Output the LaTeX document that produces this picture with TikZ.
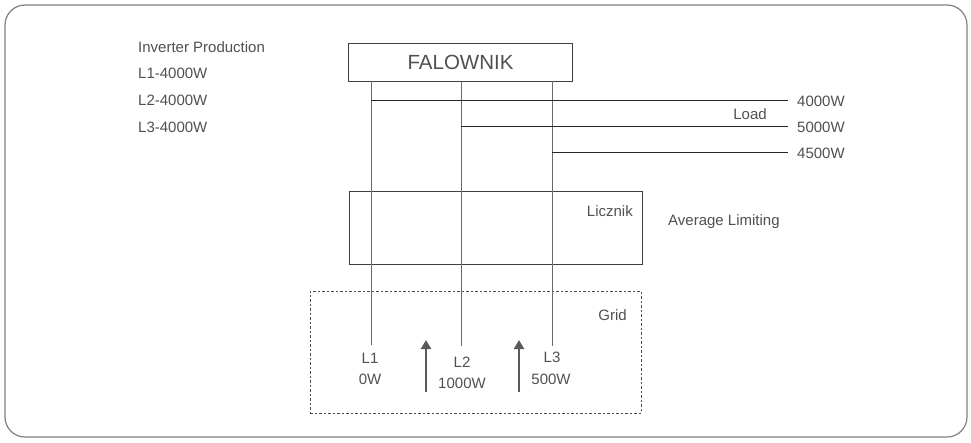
\documentclass[tikz,border=0pt]{standalone}
\usepackage{fontspec}
\setmainfont{Liberation Sans}
\usetikzlibrary{arrows.meta}
\definecolor{txt}{HTML}{505050}
\definecolor{frame}{HTML}{808080}
\definecolor{phasec}{HTML}{6A6A6A}
\definecolor{arrowc}{HTML}{5A5A5A}
\begin{document}
\begin{tikzpicture}[x=1pt,y=-1pt,
  lbl/.style={font=\fontsize{15}{17}\selectfont, text=txt, inner sep=0pt},
  box/.style={draw=black!75, line width=0.9pt, inner sep=0pt},
  phase/.style={draw=phasec, line width=0.9pt},
  loadline/.style={draw=black!85, line width=0.9pt},
  flow/.style={draw=arrowc, line width=2.6pt, -{Triangle[length=9pt,width=10pt]}}]
\useasboundingbox (0,0) rectangle (971,442);
\draw[draw=frame, line width=1.2pt, rounded corners=20pt] (5,5) rectangle (967,437);

% left texts
\node[lbl, anchor=west] (prod) at (138,47) {Inverter Production};
\node[lbl, anchor=west] (p1t) at (138,73) {L1-4000W};
\node[lbl, anchor=west] (p2t) at (138,100) {L2-4000W};
\node[lbl, anchor=west] (p3t) at (138,127) {L3-4000W};

% boxes
\node[box, minimum width=224pt, minimum height=38pt, font=\fontsize{20.5}{22}\selectfont, text=txt] (fal) at (460.5,62) {FALOWNIK};
\node[box, minimum width=293pt, minimum height=73pt] (licz) at (495.5,227.5) {};
\node[draw=black!70, line width=0.8pt, dash pattern=on 2.5pt off 2pt, minimum width=331pt, minimum height=122pt, inner sep=0pt] (grid) at (475.5,352) {};

\node[lbl, anchor=east] (liczt) at (633,211) {Licznik};
\node[lbl, anchor=west] (avg) at (668,222) {Average Limiting};
\node[lbl, anchor=east] (gridt) at (627,315) {Grid};

% phase lines
\coordinate (p1) at (371,345);
\coordinate (p2) at (461,346);
\coordinate (p3) at (552,346);
\draw[phase] (fal.south -| p1) -- (p1);
\draw[phase] (fal.south -| p2) -- (p2);
\draw[phase] (fal.south -| p3) -- (p3);

% loads
\coordinate (j1) at (371,100);
\coordinate (j2) at (461,126);
\coordinate (j3) at (552,152);
\coordinate (e1) at (788,100);
\coordinate (e2) at (788,126);
\coordinate (e3) at (788,152);
\draw[loadline] (j1) -- (e1);
\draw[loadline] (j2) -- (e2);
\draw[loadline] (j3) -- (e3);
\node[lbl, anchor=west] (w1) at (797,101) {4000W};
\node[lbl, anchor=west] (w2) at (797,127) {5000W};
\node[lbl, anchor=west] (w3) at (797,153) {4500W};
\node[lbl] (load) at (750,114) {Load};

% phase labels
\node[lbl] (l1) at (370,358) {L1};
\node[lbl] (l1w) at (370,379) {0W};
\node[lbl] (l2) at (462,362) {L2};
\node[lbl] (l2w) at (462,383) {1000W};
\node[lbl] (l3) at (552,357) {L3};
\node[lbl] (l3w) at (551,379) {500W};

% flow arrows
\coordinate (a1s) at (426,392);
\coordinate (a1e) at (426,340);
\coordinate (a2s) at (519,392);
\coordinate (a2e) at (519,340);
\draw[flow] (a1s) -- (a1e);
\draw[flow] (a2s) -- (a2e);
\end{tikzpicture}
\end{document}
